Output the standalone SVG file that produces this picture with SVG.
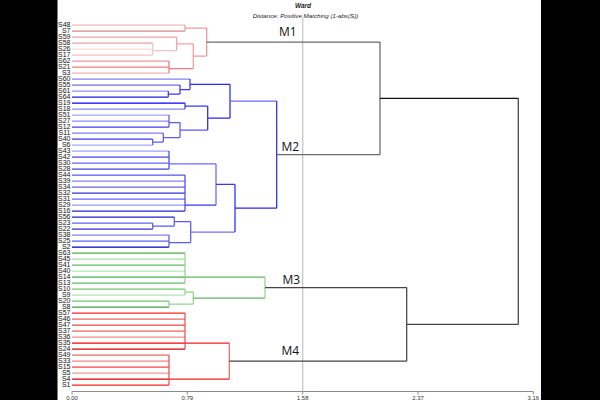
<svg xmlns="http://www.w3.org/2000/svg" width="600" height="400" viewBox="0 0 600 400">
<style>
.bg{fill:#fff}
.side{fill:#000}
.c path{fill:none;stroke-width:1.25}
.lab{font-family:"Liberation Sans",Arial,sans-serif;font-size:7px;fill:#111;text-anchor:end}
.cl{font-family:"Open Sans","Liberation Sans",sans-serif;font-size:12px;fill:#111}
.tt{font-family:"Liberation Sans",Arial,sans-serif;font-style:italic;fill:#222;text-anchor:middle}
.tick{font-family:"Liberation Sans",Arial,sans-serif;font-size:6px;fill:#333;text-anchor:middle}
</style>
<rect class="bg" x="0" y="0" width="600" height="400"/>
<rect class="side" x="0" y="0" width="57.5" height="400"/>
<rect class="side" x="541" y="0" width="59" height="400"/>
<text class="tt" x="303" y="7.5" font-size="6.5" font-weight="bold">Ward</text>
<text class="tt" x="305.5" y="17.5" font-size="6.2">Distance: Positive Matching (1-abs(S))</text>
<g id="axis">
<line x1="302.7" y1="18" x2="302.7" y2="391.5" stroke="#c8c8c8" stroke-width="1.3"/>
<path d="M72 391.5H533.3M72 391.5v3M187.3 391.5v3M302.7 391.5v3M418 391.5v3M533.3 391.5v3" stroke="#8a8a8a" fill="none" stroke-width="1"/>
<text class="tick" x="72" y="399.6">0.00</text>
<text class="tick" x="187.3" y="399.6">0.79</text>
<text class="tick" x="302.7" y="399.6">1.58</text>
<text class="tick" x="418" y="399.6">2.37</text>
<text class="tick" x="533.3" y="399.6">3.16</text>
</g>
<g id="connectors" class="c">
<!-- top red group -->
<path stroke="#f2b5b5" d="M72 25H185"/>
<path stroke="#e48585" d="M72 31H185"/>
<path stroke="#f4a3a3" d="M72 37H176.7"/>
<path stroke="#eea0a0" d="M72 43H152.7"/>
<path stroke="#fbd9d9" d="M72 49H152.7"/>
<path stroke="#f7c2c2" d="M72 55H152.7"/>
<path stroke="#f09595" d="M72 61H169"/>
<path stroke="#f27a7a" d="M72 67H169"/>
<path stroke="#f0b0b0" d="M72 73H169"/>
<path stroke="#eba0a0" d="M185 25V31"/>
<path stroke="#f7c2c2" d="M152.7 43V55M152.7 50.5H176.7"/>
<path stroke="#f4a3a3" d="M176.7 37V50.5M176.7 43.75H193.3"/>
<path stroke="#f07a7a" d="M169 61V73M169 68.5H193.3"/>
<path stroke="#f29a9a" d="M193.3 43.75V68.5M193.3 56.1H206.7M185 28H206.7"/>
<path stroke="#e89595" d="M206.7 28V56.1"/>
<!-- blue upper -->
<path stroke="#8080ff" d="M72 79H190"/>
<path stroke="#6f6ff0" d="M72 85H180"/>
<path stroke="#9090ff" d="M72 91H168.3"/>
<path stroke="#1a1ae0" d="M72 97H168.3"/>
<path stroke="#0000ff" d="M72 103H185"/>
<path stroke="#8585ff" d="M72 109H185"/>
<path stroke="#a5a5ff" d="M72 115H169"/>
<path stroke="#8a8aff" d="M72 121H169"/>
<path stroke="#4040f0" d="M72 127H169"/>
<path stroke="#7d7dff" d="M72 133H163.3"/>
<path stroke="#3535f0" d="M72 139H152.7"/>
<path stroke="#a8a8ff" d="M72 145H152.7"/>
<path stroke="#3a3af0" d="M168.3 91V97M168.3 94H180M180 85V94M180 89.5H190M190 79V89.5"/>
<path stroke="#3a3af0" d="M185 103V109M185 106H207.7"/>
<path stroke="#5a5af5" d="M169 115V127M169 122.5H180M152.7 139V145M152.7 142H163.3M163.3 133V142M163.3 137.5H180M180 122.5V137.5M180 130H207.7"/>
<path stroke="#2a2af0" d="M207.7 106V130M207.7 118H230M190 84.25H230M230 84.25V118"/>
<path stroke="#6a6aff" d="M230 101.1H276.7"/>
<!-- blue lower -->
<path stroke="#a0a0ff" d="M72 151H169"/>
<path stroke="#4545f0" d="M72 157H169"/>
<path stroke="#6565ff" d="M72 163H169"/>
<path stroke="#4040e0" d="M72 169H169"/>
<path stroke="#5555f0" d="M72 175H185"/>
<path stroke="#8585ff" d="M72 181H185"/>
<path stroke="#6565f0" d="M72 187H185"/>
<path stroke="#3030e0" d="M72 193H185"/>
<path stroke="#6565ff" d="M72 199H185"/>
<path stroke="#9595ff" d="M72 205H185"/>
<path stroke="#2525d0" d="M72 211H185"/>
<path stroke="#2020d0" d="M72 217H174.3"/>
<path stroke="#6060f0" d="M72 223H152.7"/>
<path stroke="#3030e0" d="M72 229H152.7"/>
<path stroke="#8080ff" d="M72 235H169"/>
<path stroke="#6060f0" d="M72 241H169"/>
<path stroke="#0000c0" d="M72 247H169"/>
<path stroke="#4a4af0" d="M169 151V169M185 175V211"/>
<path stroke="#6a6aff" d="M169 163.75H216M216 163.75V205.1"/>
<path stroke="#3a3ae8" d="M185 205.1H216M216 184.4H235"/>
<path stroke="#5a5af0" d="M152.7 223V229M152.7 226H174.3M174.3 217V226M174.3 221.5H190.7M169 235V247M169 242.5H190.7M190.7 221.5V242.5"/>
<path stroke="#7070ff" d="M190.7 232H235"/>
<path stroke="#2a2af0" d="M235 184.4V232M235 208.2H276.7M276.7 101.1V208.2"/>
<!-- green -->
<path stroke="#45b045" d="M72 253H185"/>
<path stroke="#a5e0a5" d="M72 259H185"/>
<path stroke="#60c060" d="M72 265H185"/>
<path stroke="#b5e8b5" d="M72 271H185"/>
<path stroke="#45b045" d="M72 277H185"/>
<path stroke="#60c060" d="M72 283H185"/>
<path stroke="#70c870" d="M72 289H185"/>
<path stroke="#b0e6b0" d="M72 295H185"/>
<path stroke="#70c870" d="M72 301H169"/>
<path stroke="#40a040" d="M72 307H169"/>
<path stroke="#8fd68f" d="M185 253V283M185 289V295M185 292H193.3M169 301V307M169 304H193.3M193.3 292V304"/>
<path stroke="#5cbc5c" d="M185 277.2H265M193.3 298H265"/>
<path stroke="#8fd68f" d="M265 277.2V298"/>
<!-- bottom red -->
<path stroke="#ff2525" d="M72 313H185"/>
<path stroke="#f06565" d="M72 319H185"/>
<path stroke="#f04545" d="M72 325H185"/>
<path stroke="#f06060" d="M72 331H185"/>
<path stroke="#f28a8a" d="M72 337H185"/>
<path stroke="#ff0000" d="M72 343H185"/>
<path stroke="#e00000" d="M72 349H185"/>
<path stroke="#f06565" d="M72 355H169"/>
<path stroke="#f28585" d="M72 361H169"/>
<path stroke="#ff4040" d="M72 367H169"/>
<path stroke="#f29595" d="M72 373H169"/>
<path stroke="#e00000" d="M72 379H169"/>
<path stroke="#ff2020" d="M72 385H169"/>
<path stroke="#f05050" d="M185 313V349M169 355V385"/>
<path stroke="#f02020" d="M185 343.1H229.3M169 379.2H229.3"/>
<path stroke="#e06a6a" d="M229.3 343.1V379.2"/>
<!-- top level -->
<path stroke="#6a6a6a" d="M206.7 42.06H380M380 42.06V154.65M276.7 154.65H380"/>
<path stroke="#111" d="M380 98.35H518.3"/>
<path stroke="#444" d="M518.3 98.35V324.4M406.7 324.4H518.3M406.7 287.6V361.15M265 287.6H406.7M229.3 361.15H406.7"/>
</g>
<g id="M1"><text class="cl" x="279" y="36">M1</text></g>
<g id="M2"><text class="cl" x="281.5" y="150.5">M2</text></g>
<g id="M3"><text class="cl" x="282.5" y="283.5">M3</text></g>
<g id="M4"><text class="cl" x="281.5" y="355">M4</text></g>
<g id="leaves" class="lab">
<g id="leaf-S48"><text class="lab" x="70.5" y="27.3">S48</text></g>
<g id="leaf-S7"><text class="lab" x="70.5" y="33.3">S7</text></g>
<g id="leaf-S59"><text class="lab" x="70.5" y="39.3">S59</text></g>
<g id="leaf-S58"><text class="lab" x="70.5" y="45.3">S58</text></g>
<g id="leaf-S26"><text class="lab" x="70.5" y="51.3">S26</text></g>
<g id="leaf-S17"><text class="lab" x="70.5" y="57.3">S17</text></g>
<g id="leaf-S62"><text class="lab" x="70.5" y="63.3">S62</text></g>
<g id="leaf-S21"><text class="lab" x="70.5" y="69.3">S21</text></g>
<g id="leaf-S3"><text class="lab" x="70.5" y="75.3">S3</text></g>
<g id="leaf-S60"><text class="lab" x="70.5" y="81.3">S60</text></g>
<g id="leaf-S55"><text class="lab" x="70.5" y="87.3">S55</text></g>
<g id="leaf-S61"><text class="lab" x="70.5" y="93.3">S61</text></g>
<g id="leaf-S64"><text class="lab" x="70.5" y="99.3">S64</text></g>
<g id="leaf-S19"><text class="lab" x="70.5" y="105.3">S19</text></g>
<g id="leaf-S18"><text class="lab" x="70.5" y="111.3">S18</text></g>
<g id="leaf-S51"><text class="lab" x="70.5" y="117.3">S51</text></g>
<g id="leaf-S27"><text class="lab" x="70.5" y="123.3">S27</text></g>
<g id="leaf-S12"><text class="lab" x="70.5" y="129.3">S12</text></g>
<g id="leaf-S11"><text class="lab" x="70.5" y="135.3">S11</text></g>
<g id="leaf-S50"><text class="lab" x="70.5" y="141.3">S40</text></g>
<g id="leaf-S6"><text class="lab" x="70.5" y="147.3">S6</text></g>
<g id="leaf-S43"><text class="lab" x="70.5" y="153.3">S43</text></g>
<g id="leaf-S42"><text class="lab" x="70.5" y="159.3">S42</text></g>
<g id="leaf-S30"><text class="lab" x="70.5" y="165.3">S30</text></g>
<g id="leaf-S28"><text class="lab" x="70.5" y="171.3">S28</text></g>
<g id="leaf-S44"><text class="lab" x="70.5" y="177.3">S44</text></g>
<g id="leaf-S39"><text class="lab" x="70.5" y="183.3">S39</text></g>
<g id="leaf-S34"><text class="lab" x="70.5" y="189.3">S34</text></g>
<g id="leaf-S32"><text class="lab" x="70.5" y="195.3">S32</text></g>
<g id="leaf-S31"><text class="lab" x="70.5" y="201.3">S31</text></g>
<g id="leaf-S29"><text class="lab" x="70.5" y="207.3">S29</text></g>
<g id="leaf-S16"><text class="lab" x="70.5" y="213.3">S16</text></g>
<g id="leaf-S56"><text class="lab" x="70.5" y="219.3">S56</text></g>
<g id="leaf-S23"><text class="lab" x="70.5" y="225.3">S23</text></g>
<g id="leaf-S22"><text class="lab" x="70.5" y="231.3">S22</text></g>
<g id="leaf-S38"><text class="lab" x="70.5" y="237.3">S38</text></g>
<g id="leaf-S25"><text class="lab" x="70.5" y="243.3">S25</text></g>
<g id="leaf-S2"><text class="lab" x="70.5" y="249.3">S2</text></g>
<g id="leaf-S63"><text class="lab" x="70.5" y="255.3">S63</text></g>
<g id="leaf-S45"><text class="lab" x="70.5" y="261.3">S45</text></g>
<g id="leaf-S41"><text class="lab" x="70.5" y="267.3">S41</text></g>
<g id="leaf-S40"><text class="lab" x="70.5" y="273.3">S40</text></g>
<g id="leaf-S14"><text class="lab" x="70.5" y="279.3">S14</text></g>
<g id="leaf-S13"><text class="lab" x="70.5" y="285.3">S13</text></g>
<g id="leaf-S10"><text class="lab" x="70.5" y="291.3">S10</text></g>
<g id="leaf-S9"><text class="lab" x="70.5" y="297.3">S9</text></g>
<g id="leaf-S20"><text class="lab" x="70.5" y="303.3">S20</text></g>
<g id="leaf-S8"><text class="lab" x="70.5" y="309.3">S8</text></g>
<g id="leaf-S57"><text class="lab" x="70.5" y="315.3">S57</text></g>
<g id="leaf-S46"><text class="lab" x="70.5" y="321.3">S46</text></g>
<g id="leaf-S47"><text class="lab" x="70.5" y="327.3">S47</text></g>
<g id="leaf-S37"><text class="lab" x="70.5" y="333.3">S37</text></g>
<g id="leaf-S36"><text class="lab" x="70.5" y="339.3">S36</text></g>
<g id="leaf-S35"><text class="lab" x="70.5" y="345.3">S35</text></g>
<g id="leaf-S24"><text class="lab" x="70.5" y="351.3">S24</text></g>
<g id="leaf-S49"><text class="lab" x="70.5" y="357.3">S49</text></g>
<g id="leaf-S33"><text class="lab" x="70.5" y="363.3">S33</text></g>
<g id="leaf-S15"><text class="lab" x="70.5" y="369.3">S15</text></g>
<g id="leaf-S5"><text class="lab" x="70.5" y="375.3">S5</text></g>
<g id="leaf-S4"><text class="lab" x="70.5" y="381.3">S4</text></g>
<g id="leaf-S1"><text class="lab" x="70.5" y="387.3">S1</text></g>
</g>
</svg>
